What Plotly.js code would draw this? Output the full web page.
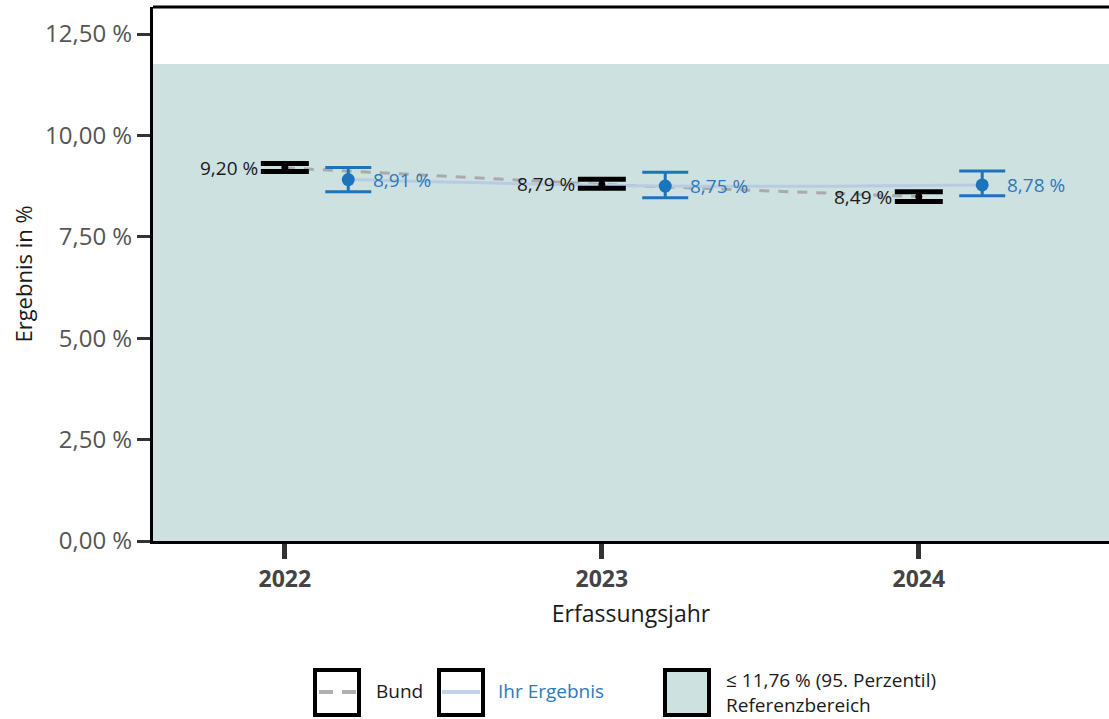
<!DOCTYPE html>
<html>
<head>
<meta charset="utf-8">
<script src="https://cdn.plot.ly/plotly-3.0.1.min.js"></script>
<style>
  html, body { margin: 0; padding: 0; background: #ffffff; overflow: hidden; }
  #chart { width: 1109px; height: 719px; }
</style>
</head>
<body>
<div id="chart"></div>
<script>
// ---- Data ----
const years = [2022, 2023, 2024];
const bundValues = [9.20, 8.79, 8.49];
const bundLower = [9.11, 8.70, 8.37];
const bundUpper = [9.31, 8.92, 8.61];
const bundLabels = ["9,20 %", "8,79 %", "8,49 %"];

const ihrValues = [8.91, 8.75, 8.78];
const ihrLower = [8.61, 8.46, 8.51];
const ihrUpper = [9.21, 9.09, 9.12];
const ihrLabels = ["8,91 %", "8,75 %", "8,78 %"];

const referenceLimit = 11.76;
const yTickValues = [0, 2.5, 5, 7.5, 10, 12.5];
const yTickLabels = ["0,00 %", "2,50 %", "5,00 %", "7,50 %", "10,00 %", "12,50 %"];
const xTickLabels = ["2022", "2023", "2024"];

const legendBund = "Bund";
const legendIhr = "Ihr Ergebnis";
const legendRef1 = "≤ 11,76 % (95. Perzentil)";
const legendRef2 = "Referenzbereich";

// ---- Styling ----
const FONT = "Open Sans, Lato, sans-serif";
const BLUE = "#1c74bb";
const BLUE_TEXT = "#2e78bd";
const BAND = "#cde1e1";
const offset = 0.2;
const ihrX = years.map(y => y + offset);

const traces = [
  {
    x: years, y: bundValues, mode: "lines", type: "scatter",
    line: { color: "#aaaaaa", width: 3, dash: "10px,9px" },
    hoverinfo: "skip", showlegend: false
  },
  {
    x: ihrX, y: ihrValues, mode: "lines", type: "scatter",
    line: { color: "#b9cbe2", width: 3, shape: "spline" },
    hoverinfo: "skip", showlegend: false
  },
  {
    x: years, y: bundValues, mode: "markers", type: "scatter",
    marker: { color: "#000000", size: 7 },
    error_y: {
      type: "data", symmetric: false,
      array: bundUpper.map((u, i) => u - bundValues[i]),
      arrayminus: bundValues.map((v, i) => v - bundLower[i]),
      color: "#000000", thickness: 5, width: 24
    },
    showlegend: false
  },
  {
    x: ihrX, y: ihrValues, mode: "markers", type: "scatter",
    marker: { color: BLUE, size: 13 },
    error_y: {
      type: "data", symmetric: false,
      array: ihrUpper.map((u, i) => u - ihrValues[i]),
      arrayminus: ihrValues.map((v, i) => v - ihrLower[i]),
      color: BLUE, thickness: 3, width: 23
    },
    showlegend: false
  }
];

const annotations = [];
years.forEach((yr, i) => {
  annotations.push({
    x: yr, y: bundValues[i], xref: "x", yref: "y",
    text: bundLabels[i], showarrow: false,
    xanchor: "right", yanchor: "middle", xshift: -25,
    font: { family: FONT, size: 19, color: "#1a1a1a" }
  });
  annotations.push({
    x: ihrX[i], y: ihrValues[i], xref: "x", yref: "y",
    text: ihrLabels[i], showarrow: false,
    xanchor: "left", yanchor: "middle", xshift: 23,
    font: { family: FONT, size: 19, color: BLUE_TEXT }
  });
});

// Legend (custom boxes) in paper coordinates
const W = 956, H = 534, L = 153, T = 7;
const px = x => (x - L) / W;
const py = y => (T + H - y) / H;

annotations.push(
  { xref: "paper", yref: "paper", x: px(374), y: py(691), xanchor: "left", yanchor: "middle",
    text: legendBund, showarrow: false, font: { family: FONT, size: 19, color: "#1a1a1a" } },
  { xref: "paper", yref: "paper", x: px(496), y: py(691), xanchor: "left", yanchor: "middle",
    text: legendIhr, showarrow: false, font: { family: FONT, size: 19, color: BLUE_TEXT } },
  { xref: "paper", yref: "paper", x: px(724), y: py(692.5), xanchor: "left", yanchor: "middle",
    align: "left", text: legendRef1 + "<br>" + legendRef2, showarrow: false,
    font: { family: FONT, size: 19, color: "#1a1a1a" } }
);

const shapes = [
  // reference band
  { type: "rect", xref: "paper", yref: "y", x0: 0, x1: 1, y0: 0, y1: referenceLimit,
    fillcolor: BAND, line: { width: 0 }, layer: "below" },
  // top frame line
  { type: "line", xref: "paper", yref: "paper", x0: 0, x1: 1, y0: 1, y1: 1,
    line: { color: "#000000", width: 3 } },
  // legend box 1
  { type: "rect", xref: "paper", yref: "paper", x0: px(315), x1: px(359), y0: py(715), y1: py(670),
    fillcolor: "#ffffff", line: { color: "#000000", width: 4 } },
  { type: "line", xref: "paper", yref: "paper", x0: px(319), x1: px(333), y0: py(692), y1: py(692),
    line: { color: "#b0b0b0", width: 4 } },
  { type: "line", xref: "paper", yref: "paper", x0: px(342), x1: px(356), y0: py(692), y1: py(692),
    line: { color: "#b0b0b0", width: 4 } },
  // legend box 2
  { type: "rect", xref: "paper", yref: "paper", x0: px(439), x1: px(483), y0: py(715), y1: py(670),
    fillcolor: "#ffffff", line: { color: "#000000", width: 4 } },
  { type: "line", xref: "paper", yref: "paper", x0: px(442), x1: px(480), y0: py(692), y1: py(692),
    line: { color: "#c3d2ea", width: 4 } },
  // legend box 3
  { type: "rect", xref: "paper", yref: "paper", x0: px(665), x1: px(709), y0: py(715), y1: py(670),
    fillcolor: BAND, line: { color: "#000000", width: 4 } }
];

const layout = {
  width: 1109, height: 719,
  margin: { l: 153, r: 0, t: 7, b: 178, pad: 0 },
  paper_bgcolor: "#ffffff", plot_bgcolor: "#ffffff",
  showlegend: false,
  font: { family: FONT },
  xaxis: {
    range: [2021.584, 2024.6],
    tickvals: years, ticktext: xTickLabels,
    ticks: "outside", ticklen: 15, tickwidth: 5, tickcolor: "#333333",
    tickfont: { family: FONT, size: 23, color: "#444444", weight: "bold" },
    showgrid: false, zeroline: false,
    showline: true, linecolor: "#000000", linewidth: 3,
    title: { text: "Erfassungsjahr", font: { family: FONT, size: 23, color: "#1a1a1a" }, standoff: 14 }
  },
  yaxis: {
    range: [0, 13.166],
    tickvals: yTickValues, ticktext: yTickLabels,
    ticks: "outside", ticklen: 13, tickwidth: 3, tickcolor: "#333333",
    tickfont: { family: FONT, size: 24, color: "#555555" },
    showgrid: false, zeroline: false,
    showline: true, linecolor: "#000000", linewidth: 3,
    title: { text: "Ergebnis in %", font: { family: FONT, size: 22, color: "#1a1a1a" }, standoff: 7 }
  },
  shapes: shapes,
  annotations: annotations
};

Plotly.newPlot("chart", traces, layout, { displayModeBar: false, staticPlot: true });
</script>
</body>
</html>
